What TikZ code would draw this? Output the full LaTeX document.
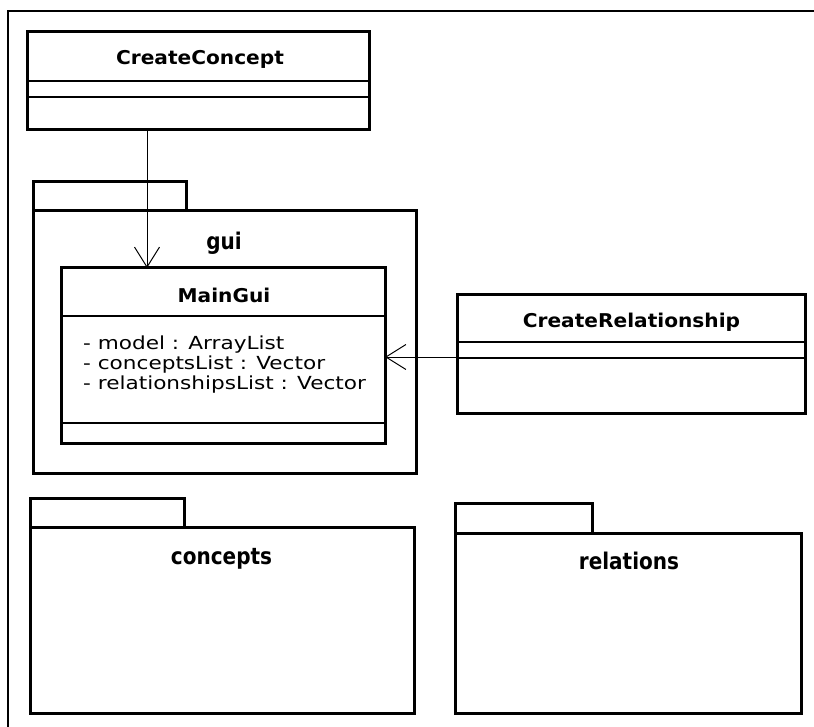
\documentclass[tikz,border=0pt]{standalone}
\usepackage{fontspec}
\setmainfont{DejaVu Sans}
\newfontfamily\clsfont[FakeStretch=1.06]{DejaVu Sans Bold}
\newfontfamily\attrfont[FakeStretch=1.2]{DejaVu Sans}
\newfontfamily\pkgfont[FakeStretch=0.87]{DejaVu Sans Bold}
\usetikzlibrary{arrows.meta}
\begin{document}
\begin{tikzpicture}[x=1pt,y=-1pt,
  umlbox/.style={draw, rectangle, line width=3pt, inner sep=0pt, outer sep=0pt},
  sepline/.style={line width=1.5pt},
  conn/.style={line width=1pt, -{Straight Barb[length=20pt,width=25pt]}},
  clsname/.style={font=\clsfont\fontsize{19pt}{22pt}\selectfont, inner sep=0pt, anchor=base},
  attr/.style={font=\attrfont\fontsize{18pt}{20pt}\selectfont, inner sep=0pt, anchor=base west},
  pkgname/.style={font=\pkgfont\fontsize{23pt}{26pt}\selectfont, inner sep=0pt, anchor=base},
  frameline/.style={line width=2pt}]
\useasboundingbox (0,0) rectangle (814,727);
% outer frame
\draw[frameline] (7.5,727) -- (7.5,11.5) -- (814,11.5);

% packages
\node[umlbox, minimum width=153pt, minimum height=29pt] (guitab) at (109.5,196.5) {};
\node[umlbox, minimum width=383pt, minimum height=262pt] (gui) at (224.5,342) {};
\node[pkgname] (guiname) at (224,250) {gui};

\node[umlbox, minimum width=154pt, minimum height=29pt] (contab) at (107,512.5) {};
\node[umlbox, minimum width=384pt, minimum height=186pt] (concepts) at (222,620) {};
\node[pkgname] (conname) at (221.5,564) {concepts};

\node[umlbox, minimum width=137pt, minimum height=30pt] (reltab) at (523.5,518) {};
\node[umlbox, minimum width=346pt, minimum height=180pt] (relations) at (628,623) {};
\node[pkgname] (relname) at (629,569) {relations};

% classes
\node[umlbox, minimum width=342pt, minimum height=98pt] (cc) at (198,81) {};
\draw[sepline] ([yshift=-49pt]cc.north west) -- ([yshift=-49pt]cc.north east);
\draw[sepline] ([yshift=-65pt]cc.north west) -- ([yshift=-65pt]cc.north east);
\node[clsname] (ccname) at (200,65) {CreateConcept};

\node[umlbox, minimum width=324pt, minimum height=175pt] (mg) at (223,355.5) {};
\draw[sepline] ([yshift=-48pt]mg.north west) -- ([yshift=-48pt]mg.north east);
\draw[sepline] ([yshift=-155pt]mg.north west) -- ([yshift=-155pt]mg.north east);
\node[clsname] (mgname) at (224,303) {MainGui};
\node[attr] (a1) at (83,349) {- model : ArrayList};
\node[attr] (a2) at (83,369) {- conceptsList : Vector};
\node[attr] (a3) at (83,389) {- relationshipsList : Vector};

\node[umlbox, minimum width=348pt, minimum height=118pt] (cr) at (631,354) {};
\draw[sepline] ([yshift=-47pt]cr.north west) -- ([yshift=-47pt]cr.north east);
\draw[sepline] ([yshift=-63pt]cr.north west) -- ([yshift=-63pt]cr.north east);
\node[clsname] (crname) at (631.5,328) {CreateRelationship};

% connectors
\coordinate (ccout) at ([xshift=-51pt]cc.south);
\draw[conn] (ccout) -- (ccout |- mg.north);
\coordinate (crin) at ([yshift=-62pt]cr.north west);
\draw[conn] (crin) -- (crin -| mg.east);
\end{tikzpicture}
\end{document}
